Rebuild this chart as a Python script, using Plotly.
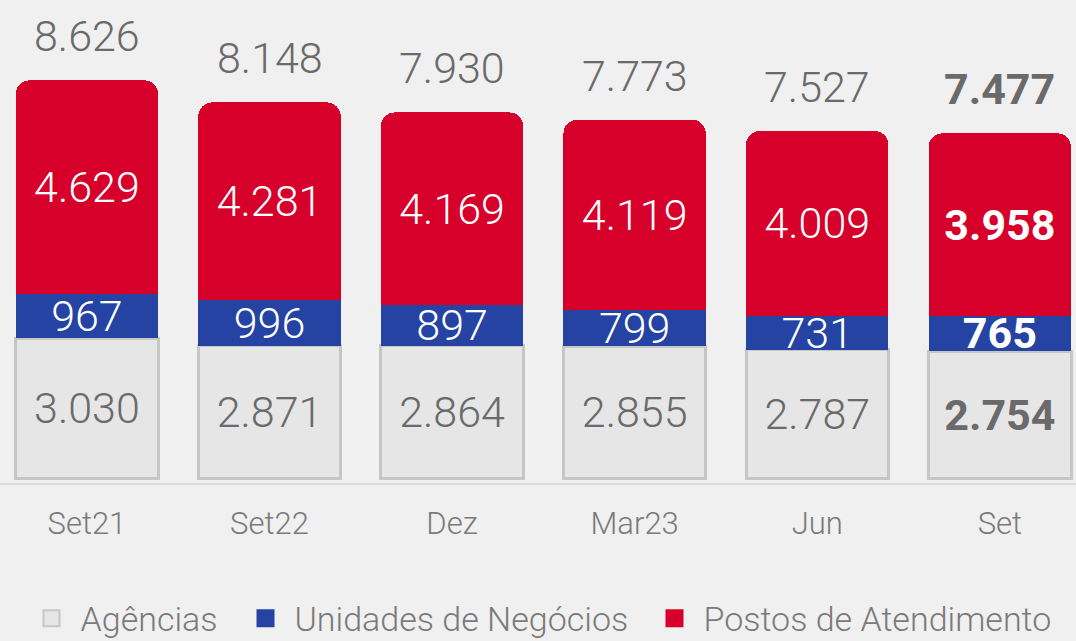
import plotly.graph_objects as go

# data
periodos = ["Set21", "Set22", "Dez", "Mar23", "Jun", "Set"]
agencias = [3030, 2871, 2864, 2855, 2787, 2754]
unidades = [967, 996, 897, 799, 731, 765]
postos = [4629, 4281, 4169, 4119, 4009, 3958]

nomes = ["Agências", "Unidades de Negócios", "Postos de Atendimento"]
cores = ["#e6e6e6", "#2443a3", "#d6002a"]

totais = [a + u + p for a, u, p in zip(agencias, unidades, postos)]


def fmt(vals):
    # pt-BR thousands separator, last period in bold
    out = [f"{v:,}".replace(",", ".") for v in vals]
    out[-1] = f"<b>{out[-1]}</b>"
    return out


FONT = "Roboto"
CINZA_TXT = "#6a6a6a"

fig = go.Figure()

series = [agencias, unidades, postos]
txt_cor = [CINZA_TXT, "#ffffff", "#ffffff"]
for nome, cor, vals, tc in zip(nomes, cores, series, txt_cor):
    line = dict(color="#c6c6c6", width=3) if nome == "Agências" else dict(width=0)
    fig.add_trace(go.Bar(
        x=periodos, y=vals, name=nome, showlegend=False,
        marker=dict(color=cor, line=line),
        text=fmt(vals), textposition="inside", insidetextanchor="middle",
        textfont=dict(family=FONT, size=43, color=tc, weight=300),
        constraintext="none", hoverinfo="skip"))

# legend entries with bigger square swatches
larguras = [151, 346, 345]
for nome, cor, lw in zip(nomes, cores, larguras):
    borda = "#c6c6c6" if nome == "Agências" else cor
    fig.add_trace(go.Scatter(
        x=[None], y=[None], mode="markers", name=nome, legendwidth=lw,
        marker=dict(symbol="square", size=20, color=cor, line=dict(color=borda, width=2))))

# totals above the stacks
for p, t, s in zip(periodos, totais, fmt(totais)):
    fig.add_annotation(x=p, y=t, text=s, showarrow=False, yanchor="middle", yshift=44,
                       font=dict(family=FONT, size=43, color=CINZA_TXT, weight=300))

fig.update_layout(
    barmode="stack", bargap=0.22, barcornerradius=14,
    width=1076, height=641,
    margin=dict(l=0, r=0, t=0, b=158, autoexpand=False),
    paper_bgcolor="#f0f0f0", plot_bgcolor="#f0f0f0",
    font=dict(family=FONT, color="#7a7a7a"),
    showlegend=True,
    legend=dict(orientation="h", x=0.5, xanchor="center", xref="container",
                y=0.035, yanchor="middle", yref="container", traceorder="normal",
                font=dict(size=34, color="#7a7a7a", weight=300),
                itemsizing="trace", itemwidth=48, bgcolor="rgba(0,0,0,0)"),
)

fig.update_xaxes(range=[-0.476, 5.417], showline=True, linecolor="#dadada", linewidth=2,
                 ticks="", ticklabelstandoff=12,
                 tickfont=dict(size=31, color="#7a7a7a", weight=300), showgrid=False)
fig.update_yaxes(range=[-108, 10369], visible=False, showgrid=False, zeroline=False)

fig.write_html("out.html", config={"displayModeBar": False},
               post_script="document.body.style.margin='0';")
